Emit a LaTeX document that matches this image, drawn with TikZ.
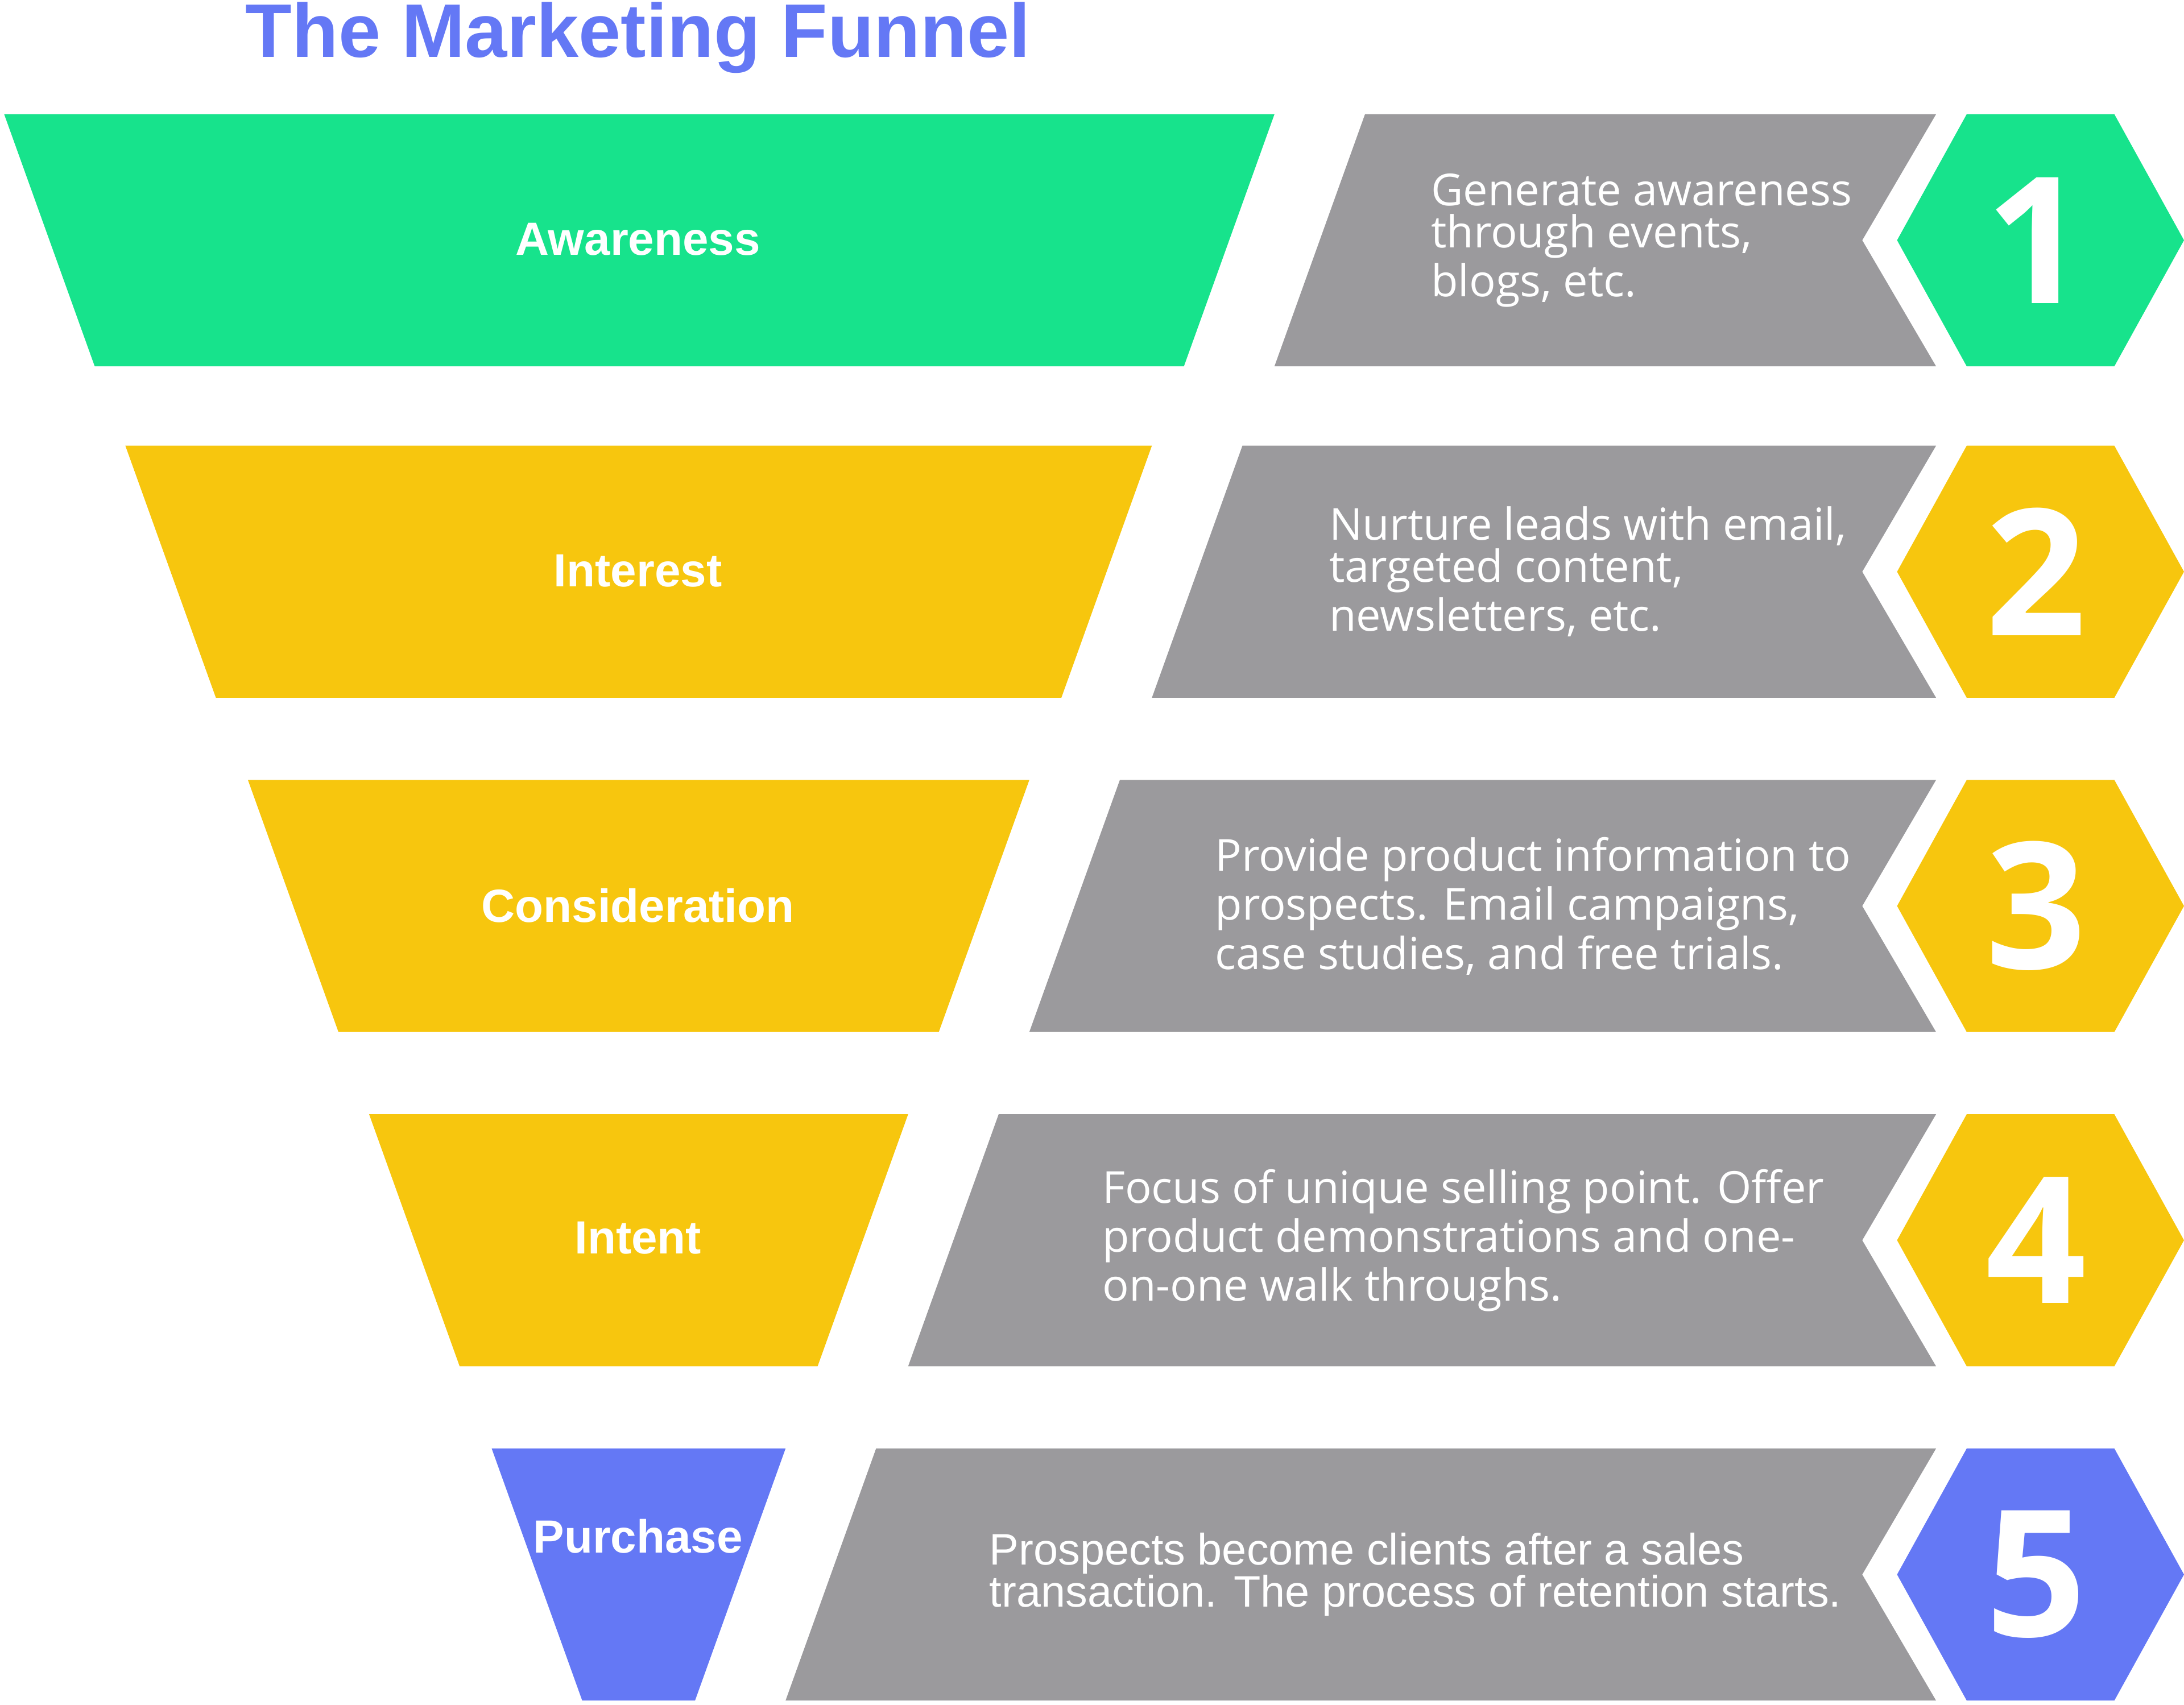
\documentclass[tikz,border=0pt]{standalone}
\usepackage{fontspec}
\setmainfont{Liberation Sans}
\newfontfamily\descfont{Open Sans}
\usepackage{tikz}
\definecolor{fgreen}{HTML}{17E38C}
\definecolor{fyellow}{HTML}{F7C60E}
\definecolor{fblue}{HTML}{6478F5}
\definecolor{fgrey}{HTML}{9B9A9D}
\tikzset{
  stagelabel/.style={text=white, font=\bfseries\fontsize{9.5}{11}\selectfont},
  desclabel/.style={text=white, anchor=west, align=left, font=\descfont\fontsize{9}{8.6}\selectfont},
  desclabeltwo/.style={text=white, anchor=west, align=left, font=\fontsize{9}{8.6}\selectfont},
  numlabel/.style={text=white, font=\descfont\bfseries\fontsize{36}{36}\selectfont}
}
\begin{document}
\begin{tikzpicture}[x=0.01cm,y=-0.01cm]
  \useasboundingbox (0,0) rectangle (1568,1224);
  \node[text=fblue, font=\bfseries\fontsize{15.5}{18}\selectfont] (title) at (458,27) {The Marketing Funnel};
  % rows: top y, left x of funnel, right x of funnel, colour, label, text x
  \foreach \n/\ty/\lx/\rx/\col/\lab/\tx in {
      1/82/3/915/fgreen/Awareness/1015,
      2/320/90/827/fyellow/Interest/942,
      3/560/178/739/fyellow/Consideration/860,
      4/800/265/652/fyellow/Intent/779,
      5/1040/353/564/fblue/Purchase/698}{
    \pgfmathsetmacro{\by}{\ty+181}
    \pgfmathsetmacro{\my}{\ty+90.5}
    % funnel piece
    \fill[\col] (\lx,\ty) -- (\rx,\ty) -- (\rx-65,\by) -- (\lx+65,\by) -- cycle;
    % grey arrow
    \fill[fgrey] (\rx,\by) -- (\rx+65,\ty) -- (1390,\ty) -- (1337,\my) -- (1390,\by) -- cycle;
    % hexagon
    \fill[\col] (1362,\my) -- (1412,\ty) -- (1518,\ty) -- (1568,\my) -- (1518,\by) -- (1412,\by) -- cycle;
    \node[numlabel] (num\n) at (1462,\my) {\n};
    \coordinate (desc\n) at (\tx,\my);
  }
  \node[stagelabel] (awareness) at (458,172) {Awareness};
  \node[stagelabel] (interest) at (458,410) {Interest};
  \node[stagelabel] (consideration) at (458,650) {Consideration};
  \node[stagelabel] (intent) at (458,889) {Intent};
  \node[stagelabel] (purchase) at (458,1103) {Purchase};
  \node[desclabel] (text1) at (desc1) {Generate awareness\\through events,\\blogs, etc.};
  \node[desclabel] (text2) at (desc2) {Nurture leads with email,\\targeted content,\\newsletters, etc.};
  \node[desclabel] (text3) at (desc3) {Provide product information to\\prospects. Email campaigns,\\case studies, and free trials.};
  \node[desclabel] (text4) at (desc4) {Focus of unique selling point. Offer\\product demonstrations and one-\\on-one walk throughs.};
  \node[desclabeltwo] (text5) at (desc5) {Prospects become clients after a sales\\transaction. The process of retention starts.};
\end{tikzpicture}
\end{document}
